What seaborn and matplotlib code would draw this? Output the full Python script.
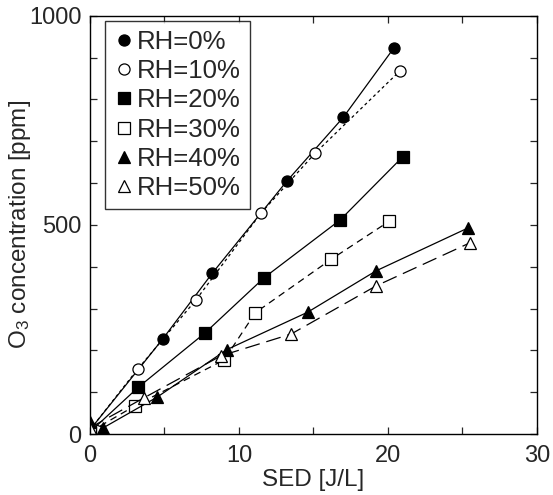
import matplotlib
matplotlib.use("Agg")
import matplotlib.pyplot as plt
from matplotlib.lines import Line2D
from matplotlib.ticker import MultipleLocator
import seaborn as sns

# values
sed_rh0 = [0, 4.9, 8.2, 13.2, 17.0, 20.4]
o3_rh0 = [10, 228, 384, 604, 757, 923]
sed_rh10 = [0, 3.2, 7.1, 11.5, 15.1, 20.8]
o3_rh10 = [10, 155, 320, 529, 671, 868]
sed_rh20 = [0, 3.25, 7.7, 11.7, 16.8, 21.0]
o3_rh20 = [5, 112, 241, 374, 512, 663]
sed_rh30 = [0, 3.0, 9.0, 11.1, 16.2, 20.1]
o3_rh30 = [5, 67, 177, 290, 418, 509]
sed_rh40 = [0, 0.9, 4.5, 9.2, 14.6, 19.2, 25.4]
o3_rh40 = [28, 15, 88, 202, 291, 390, 493]
sed_rh50 = [0, 3.6, 8.8, 13.5, 19.2, 25.5]
o3_rh50 = [15, 86, 187, 239, 354, 457]
labels = ["RH=0%", "RH=10%", "RH=20%", "RH=30%", "RH=40%", "RH=50%"]

sns.set_style("ticks")
plt.rcParams['font.family'] = ['Liberation Sans', 'DejaVu Sans']
plt.rcParams['mathtext.default'] = 'regular'

fig = plt.figure(figsize=(5.53, 4.95), dpi=100)
ax = fig.add_axes([0.1627, 0.1232, 0.8083, 0.8451])

series = [
    (sed_rh0, o3_rh0, 'o', 'k', 8, (None, None)),
    (sed_rh10, o3_rh10, 'o', 'w', 8, (2.4, 2.4)),
    (sed_rh20, o3_rh20, 's', 'k', 9, (None, None)),
    (sed_rh30, o3_rh30, 's', 'w', 8.5, (5.5, 4)),
    (sed_rh40, o3_rh40, '^', 'k', 9, (None, None)),
    (sed_rh50, o3_rh50, '^', 'w', 9, (12, 5.5)),
]

handles = []
for (x, y, mk, fc, ms, dash), lab in zip(series, labels):
    kw = dict(marker=mk, markersize=ms, markerfacecolor=fc, markeredgecolor='k',
              markeredgewidth=0.9, color='k', linewidth=0.9)
    if dash[0] is not None:
        kw['dashes'] = dash
    sns.lineplot(x=x, y=y, ax=ax, sort=False, **kw)
    handles.append(Line2D([], [], linestyle='none', marker=mk, markersize=ms,
                          markerfacecolor=fc, markeredgecolor='k', markeredgewidth=0.9))

ax.set_xlim(0, 30)
ax.set_ylim(0, 1000)
ax.xaxis.set_major_locator(MultipleLocator(10))
ax.xaxis.set_minor_locator(MultipleLocator(5))
ax.set_yticks([0, 500, 1000])
ax.yaxis.set_minor_locator(MultipleLocator(100))
ax.tick_params(which='both', direction='in', top=True, right=True, labelsize=17,
               length=5, width=0.9)
ax.tick_params(axis='x', pad=8)
ax.tick_params(axis='y', pad=6)
for s in ax.spines.values():
    s.set_linewidth(1.0)
    s.set_color('k')

ax.set_xlabel("SED [J/L]", fontsize=17.5, labelpad=1)
ax.set_ylabel("O$_3$ concentration [ppm]", fontsize=17.5, labelpad=-3)

leg = ax.legend(handles, labels, loc='upper left', bbox_to_anchor=(0.033, 0.987),
                borderaxespad=0, fontsize=18.5, handlelength=0.8, handletextpad=0.1,
                labelspacing=0.2, borderpad=0.35, fancybox=False, frameon=True)
leg.get_frame().set_edgecolor('k')
leg.get_frame().set_linewidth(1.0)

fig.savefig("out.png", dpi=100)
